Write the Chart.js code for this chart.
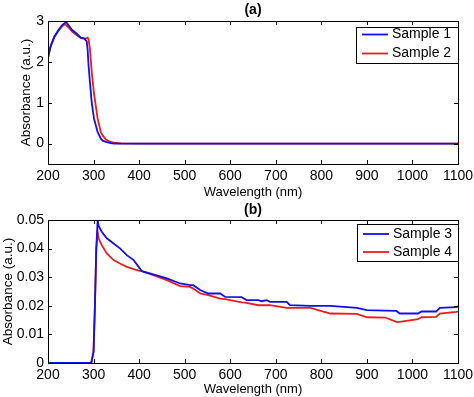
<!DOCTYPE html>
<html>
<head>
<meta charset="utf-8">
<script src="https://cdn.jsdelivr.net/npm/chart.js@4"></script>
<style>
  body { margin: 0; background: #fff; }
  .wrap { position: absolute; left: 0; width: 474px; }
  #wrapA { top: 0; height: 200px; }
  #wrapB { top: 200px; height: 197px; }
</style>
</head>
<body>
<div class="wrap" id="wrapA"><canvas id="chartA" width="474" height="200"></canvas></div>
<div class="wrap" id="wrapB"><canvas id="chartB" width="474" height="197"></canvas></div>
<script>
// panel (a)
const wlA = [200, 206, 214, 223, 231, 237, 240, 246, 253, 262, 272, 280, 285, 287, 289, 292, 294, 296, 301, 309, 316, 320, 327, 338, 345, 360, 400, 500, 600, 700, 800, 900, 1000, 1100];
const sample1 = [2.1, 2.4, 2.62, 2.78, 2.9, 2.95, 2.97, 2.88, 2.78, 2.7, 2.59, 2.57, 2.5, 2.3, 1.92, 1.5, 1.26, 1.0, 0.61, 0.28, 0.12, 0.07, 0.04, 0.01, 0, 0, 0, 0, 0, 0, 0, 0, 0, 0];
const sample2 = [2.1, 2.38, 2.6, 2.76, 2.87, 2.92, 2.9, 2.83, 2.74, 2.66, 2.58, 2.57, 2.58, 2.59, 2.55, 2.33, 2.05, 1.75, 1.22, 0.61, 0.28, 0.2, 0.1, 0.04, 0.02, 0.005, 0, 0, 0, 0, 0, 0, 0, 0];
const yTicksA = [0, 1, 2, 3];

// panel (b)
const wlB = [200, 295, 300, 303, 306, 309, 311, 318, 329, 344, 358, 373, 388, 399, 406, 431, 461, 490, 512, 519, 534, 552, 578, 589, 625, 636, 662, 669, 680, 687, 724, 731, 776, 820, 878, 900, 940, 965, 972, 1012, 1020, 1052, 1060, 1096, 1100];
const sample3 = [0, 0, 0.004, 0.02, 0.04, 0.05, 0.048, 0.0459, 0.0436, 0.0418, 0.0401, 0.0377, 0.036, 0.0336, 0.0321, 0.031, 0.0296, 0.0278, 0.0272, 0.0272, 0.0255, 0.0243, 0.0243, 0.0231, 0.023, 0.022, 0.022, 0.0216, 0.022, 0.0214, 0.0214, 0.0202, 0.02, 0.02, 0.0193, 0.0185, 0.0183, 0.0182, 0.0173, 0.0173, 0.018, 0.018, 0.0193, 0.0195, 0.0198];
const sample4 = [0, 0, 0.004, 0.02, 0.04, 0.0459, 0.0436, 0.0412, 0.0383, 0.036, 0.0348, 0.0336, 0.0328, 0.0323, 0.0321, 0.0307, 0.029, 0.0269, 0.0266, 0.026, 0.0243, 0.0237, 0.0225, 0.0223, 0.0212, 0.021, 0.0202, 0.0202, 0.0202, 0.0202, 0.0193, 0.0193, 0.0193, 0.0173, 0.0172, 0.016, 0.0159, 0.0144, 0.0144, 0.0153, 0.016, 0.0161, 0.0173, 0.0179, 0.018];
const yTicksB = [0, 0.01, 0.02, 0.03, 0.04, 0.05];

const xTicks = [200, 300, 400, 500, 600, 700, 800, 900, 1000, 1100];

const FONT = 'Liberation Sans, Arial, Helvetica, sans-serif';
const BLUE = '#1010ee';
const RED = '#ee1c1c';

const pts = (xs, ys) => xs.map((x, i) => ({ x: x, y: ys[i] }));

// box, inward ticks, panel title and legend, MATLAB style
const frame = {
  id: 'frame',
  afterDraw(chart, args, opts) {
    const { ctx, chartArea: a, scales: { x, y } } = chart;
    const tl = 4;
    ctx.save();
    ctx.strokeStyle = '#000';
    ctx.lineWidth = 1;
    ctx.beginPath();
    x.ticks.forEach(t => {
      const px = Math.round(x.getPixelForValue(t.value)) + 0.5;
      ctx.moveTo(px, a.bottom); ctx.lineTo(px, a.bottom - tl);
      ctx.moveTo(px, a.top); ctx.lineTo(px, a.top + tl);
    });
    y.ticks.forEach(t => {
      const py = Math.round(y.getPixelForValue(t.value)) + 0.5;
      ctx.moveTo(a.left, py); ctx.lineTo(a.left + tl, py);
      ctx.moveTo(a.right, py); ctx.lineTo(a.right - tl, py);
    });
    ctx.stroke();
    ctx.strokeRect(Math.round(a.left) + 0.5, Math.round(a.top) + 0.5,
      Math.round(a.right - a.left), Math.round(a.bottom - a.top));

    // panel title
    ctx.fillStyle = '#000';
    ctx.font = 'bold 14px ' + FONT;
    ctx.textAlign = 'center';
    ctx.textBaseline = 'middle';
    ctx.fillText(opts.title, (a.left + a.right) / 2, opts.titleY);

    // legend
    const L = opts.legend;
    ctx.fillStyle = '#fff';
    ctx.fillRect(L.x, L.y, L.w, L.h);
    ctx.strokeRect(L.x + 0.5, L.y + 0.5, L.w, L.h);
    ctx.font = '14px ' + FONT;
    ctx.textAlign = 'left';
    chart.data.datasets.forEach((ds, i) => {
      const ly = L.y + L.first + i * L.gap;
      ctx.strokeStyle = ds.borderColor;
      ctx.lineWidth = 1.8;
      ctx.beginPath();
      ctx.moveTo(L.x + 6, ly); ctx.lineTo(L.x + 32, ly);
      ctx.stroke();
      ctx.fillStyle = '#000';
      ctx.fillText(ds.label, L.x + 36, ly);
    });
    ctx.restore();
  }
};

function makeChart(id, cfg) {
  return new Chart(document.getElementById(id), {
    type: 'line',
    data: {
      datasets: cfg.series.map(s => ({
        label: s.label,
        data: pts(s.x, s.y),
        borderColor: s.color,
        borderWidth: 1.8,
        pointRadius: 0,
        tension: 0,
        fill: false
      }))
    },
    options: {
      responsive: false,
      animation: false,
      layout: { padding: { left: cfg.padLeft, right: 16, top: cfg.padTop, bottom: 0 } },
      plugins: {
        legend: { display: false },
        tooltip: { enabled: false },
        frame: { title: cfg.title, titleY: cfg.titleY, legend: cfg.legend }
      },
      scales: {
        x: {
          type: 'linear',
          min: 200, max: 1100,
          afterBuildTicks: s => { s.ticks = xTicks.map(v => ({ value: v })); },
          afterFit: s => { s.height = cfg.xHeight; s.paddingLeft = 0; s.paddingRight = 0; },
          grid: { display: false, drawTicks: false },
          border: { display: false },
          ticks: { color: '#000', padding: 4, font: { family: FONT, size: 14 }, maxRotation: 0, autoSkip: false, callback: v => String(v) },
          title: { display: true, text: 'Wavelength (nm)', color: '#000', padding: 0, font: { family: FONT, size: 13 } }
        },
        y: {
          min: cfg.yMin, max: cfg.yMax,
          afterBuildTicks: s => { s.ticks = cfg.yTicks.map(v => ({ value: v })); },
          afterFit: s => { s.width = cfg.yWidth; s.paddingTop = 0; s.paddingBottom = 0; },
          grid: { display: false, drawTicks: false },
          border: { display: false },
          ticks: { color: '#000', padding: 4, font: { family: FONT, size: 14 }, callback: v => String(v) },
          title: { display: true, text: 'Absorbance (a.u.)', color: '#000', padding: 0, font: { family: FONT, size: 13.5 } }
        }
      }
    },
    plugins: [frame]
  });
}

makeChart('chartA', {
  series: [
    { label: 'Sample 1', x: wlA, y: sample1, color: BLUE },
    { label: 'Sample 2', x: wlA, y: sample2, color: RED }
  ],
  yMin: -0.5, yMax: 3, yTicks: yTicksA,
  padLeft: 18, yWidth: 30, padTop: 21, xHeight: 36,
  title: '(a)', titleY: 10.5,
  legend: { x: 356, y: 27, w: 102, h: 36, first: 7.5, gap: 19 }
});

makeChart('chartB', {
  series: [
    { label: 'Sample 3', x: wlB, y: sample3, color: BLUE },
    { label: 'Sample 4', x: wlB, y: sample4, color: RED }
  ],
  yMin: 0, yMax: 0.05, yTicks: yTicksB,
  padLeft: 0, yWidth: 48, padTop: 20, xHeight: 34,
  title: '(b)', titleY: 10.5,
  legend: { x: 357, y: 24, w: 101, h: 37, first: 10, gap: 18 }
});
</script>
</body>
</html>
